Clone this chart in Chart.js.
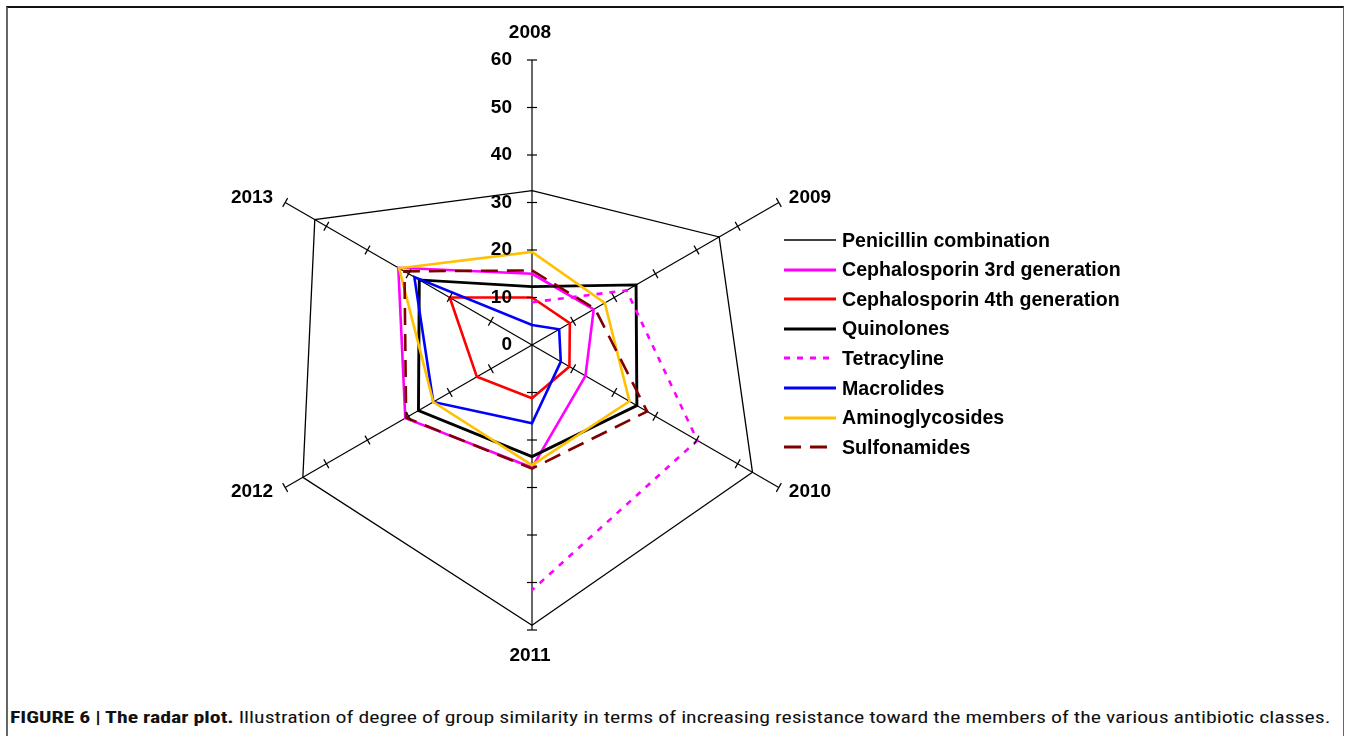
<!DOCTYPE html>
<html>
<head>
<meta charset="utf-8">
<script src="https://cdn.jsdelivr.net/npm/chart.js@4.4.0/dist/chart.umd.min.js"></script>
<style>
  body { margin: 0; background: #fff; font-family: "Liberation Sans", Arial, sans-serif; }
  #frame { position: absolute; left: 6px; top: 6px; width: 1335px; height: 740px;
           border-top: 2px solid #111; border-left: 2px solid #666; border-right: 1px solid #666; }
  #wrap { position: absolute; left: 0; top: 0; width: 1349px; height: 700px; }
  #legend { position: absolute; left: 784px; top: 228px; }
  #legend .item { position: absolute; left: 0; height: 24px; display: flex; align-items: center;
                  white-space: nowrap; font-weight: bold; font-size: 19.6px; color: #000; }
  #legend svg { margin-right: 6px; }
  #caption { position: absolute; left: 10px; top: 707px; white-space: nowrap; font-size: 17px;
             font-family: "Liberation Sans Narrow", "Roboto Condensed", "Liberation Sans", Arial, sans-serif;
             color: #111; transform-origin: 0 0; }
</style>
</head>
<body>
<div id="frame"></div>
<div id="wrap"><canvas id="radar"></canvas></div>
<div id="legend"></div>
<div id="caption"><b>FIGURE 6 | The radar plot.</b> Illustration of degree of group similarity in terms of increasing resistance toward the members of the various antibiotic classes.</div>
<script>
const years = ['2008', '2009', '2010', '2011', '2012', '2013'];
const tickValues = [0, 10, 20, 30, 40, 50, 60];

const penicillin = [32.5, 45.5, 53.6, 59, 55.7, 52.8];
const ceph3rd = [15, 15, 13, 25.8, 30.8, 32.5];
const ceph4th = [10, 9.2, 9.1, 11.2, 13.4, 20];
const quinolones = [12.3, 25.3, 25.5, 23.5, 27.6, 27.4];
const tetracyline = [9, 23, 40.2, 51.6, null, null];
const macrolides = [4.2, 6.6, 7, 16.5, 24, 28.6];
const aminoglycosides = [19.6, 17.7, 23.7, 25.3, 24, 32.3];
const sulfonamides = [15.7, 15.3, 28, 26, 30.6, 31];

const seriesNames = ['Penicillin combination', 'Cephalosporin 3rd generation', 'Cephalosporin 4th generation',
  'Quinolones', 'Tetracyline', 'Macrolides', 'Aminoglycosides', 'Sulfonamides'];
const seriesValues = [penicillin, ceph3rd, ceph4th, quinolones, tetracyline, macrolides, aminoglycosides, sulfonamides];
const colors = ['#000000', '#ff00ff', '#ff0000', '#000000', '#ff00ff', '#0000ff', '#ffc000', '#800000'];
const widths = [1.3, 2.6, 2.6, 2.9, 2.6, 2.6, 2.6, 2.6];
const dashes = [[], [], [], [], [6, 7], [], [], [17, 9]];

// small ticks on every spoke, value labels and year labels
const radarMarks = {
  id: 'radarMarks',
  afterDatasetsDraw(chart) {
    const r = chart.scales.r;
    const ctx = chart.ctx;
    ctx.save();
    ctx.strokeStyle = '#000';
    ctx.lineWidth = 1.2;
    years.forEach((y, i) => {
      const a = r.getIndexAngle(i) - Math.PI / 2;
      const px = -Math.sin(a), py = Math.cos(a);
      tickValues.forEach(v => {
        if (v === 0) return;
        const p = r.getPointPositionForValue(i, v);
        ctx.beginPath();
        ctx.moveTo(p.x - px * 5, p.y - py * 5);
        ctx.lineTo(p.x + px * 5, p.y + py * 5);
        ctx.stroke();
      });
    });
    ctx.fillStyle = '#000';
    ctx.font = 'bold 19px "Liberation Sans", Arial, sans-serif';
    ctx.textAlign = 'right';
    ctx.textBaseline = 'middle';
    tickValues.forEach(v => {
      const p = r.getPointPositionForValue(0, v);
      ctx.fillText(String(v), p.x - 20, p.y);
    });
    years.forEach((label, i) => {
      const p = r.getPointPositionForValue(i, r.max);
      const dx = p.x - r.xCenter, dy = p.y - r.yCenter;
      if (Math.abs(dx) < 1) {
        ctx.textAlign = 'center';
        ctx.fillText(label, p.x - 2, dy < 0 ? p.y - 27 : p.y + 26);
      } else {
        ctx.textAlign = dx > 0 ? 'left' : 'right';
        ctx.fillText(label, dx > 0 ? p.x + 10 : p.x - 12, p.y + (dy < 0 ? -5 : 4));
      }
    });
    ctx.restore();
  }
};

new Chart(document.getElementById('radar'), {
  type: 'radar',
  data: {
    labels: years,
    datasets: seriesNames.map((name, i) => ({
      label: name,
      data: seriesValues[i],
      borderColor: colors[i],
      borderWidth: widths[i],
      borderDash: dashes[i],
      backgroundColor: 'transparent',
      fill: false,
      pointRadius: 0,
      pointHoverRadius: 0,
      tension: 0,
      spanGaps: false,
      order: seriesNames.length - i
    }))
  },
  options: {
    responsive: true,
    maintainAspectRatio: false,
    animation: false,
    layout: { padding: { left: 247, right: 532, top: 60, bottom: 70 } },
    elements: { line: { borderJoinStyle: 'miter' } },
    plugins: { legend: { display: false }, tooltip: { enabled: false } },
    scales: {
      r: {
        min: 0,
        max: 60,
        ticks: { stepSize: 10, display: false, showLabelBackdrop: false },
        grid: { display: false },
        angleLines: { display: true, color: '#000', lineWidth: 1.2 },
        pointLabels: { display: false }
      }
    }
  },
  plugins: [radarMarks]
});

const legendBox = document.getElementById('legend');
seriesNames.forEach((name, i) => {
  const row = document.createElement('div');
  row.className = 'item';
  row.style.top = (i * 29.6) + 'px';
  row.innerHTML = '<svg width="52" height="8"><line x1="0" y1="4" x2="52" y2="4" stroke="' + colors[i] +
    '" stroke-width="' + (i === 0 ? 1.3 : 2.8) + '" stroke-dasharray="' + (dashes[i].length ? dashes[i].join(' ') : 'none') +
    '"/></svg><span>' + name + '</span>';
  legendBox.appendChild(row);
});

const caption = document.getElementById('caption');
caption.style.transform = 'scaleX(' + (1321 / caption.scrollWidth) + ')';
</script>
</body>
</html>
